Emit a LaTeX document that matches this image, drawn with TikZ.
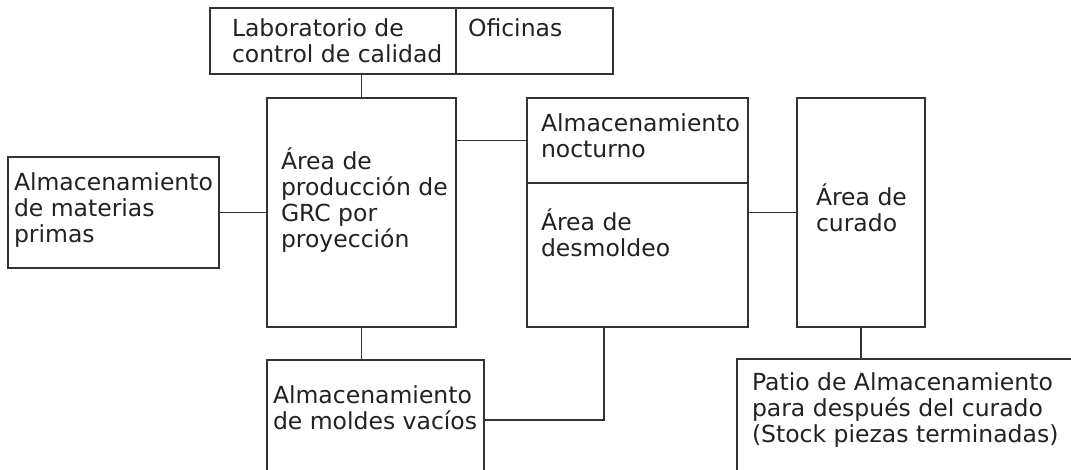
\documentclass[tikz,border=0pt]{standalone}
\usepackage{fontspec}
\setmainfont{DejaVu Sans}
\definecolor{ln}{HTML}{333333}
\definecolor{tx}{HTML}{222222}
\tikzset{
  box/.style={draw=ln, line width=1.4pt, rectangle, inner sep=0pt, outer sep=0pt, anchor=north west},
  conn/.style={draw=ln, line width=1.4pt},
  lbl/.style={text=tx, inner sep=0pt, outer sep=0pt, anchor=base west, align=left,
    font=\fontsize{23.5}{26}\selectfont}
}
\begin{document}
\begin{tikzpicture}[x=1pt,y=-1pt]
\path[use as bounding box, clip] (0,0) rectangle (1071,470);
\fill[white] (0,0) rectangle (1071,470);
% boxes
\node[box, minimum width=246pt, minimum height=66pt] (lab) at (210,8) {};
\node[box, minimum width=157pt, minimum height=66pt] (ofi) at (456,8) {};
\node[box, minimum width=189pt, minimum height=229pt] (prod) at (267,98) {};
\node[box, minimum width=211pt, minimum height=111pt] (mat) at (8,157) {};
\node[box, minimum width=221pt, minimum height=85pt] (noc) at (527,98) {};
\node[box, minimum width=221pt, minimum height=144pt] (des) at (527,183) {};
\node[box, minimum width=128pt, minimum height=229pt] (cur) at (797,98) {};
\node[box, minimum width=217pt, minimum height=160pt] (mol) at (267,360) {};
\node[box, minimum width=380pt, minimum height=160pt] (pat) at (737,359) {};
% labels (anchored at the baseline of the last line)
\node[lbl] (tlab) at (232,63) {Laboratorio de\\control de calidad};
\node[lbl] (tofi) at (468,37) {Oficinas};
\node[lbl] (tmat) at (14,243) {Almacenamiento\\de materias\\primas};
\node[lbl] (tprod) at (281,248) {Área de\\producción de\\GRC por\\proyección};
\node[lbl] (tnoc) at (541,158) {Almacenamiento\\nocturno};
\node[lbl] (tdes) at (541,257) {Área de\\desmoldeo};
\node[lbl] (tcur) at (816,232) {Área de\\curado};
\node[lbl] (tmol) at (273,429) {Almacenamiento\\de moldes vacíos};
\node[lbl] (tpat) at (752,442) {Patio de Almacenamiento\\para después del curado\\(Stock piezas terminadas)};
% connectors
\coordinate (j) at (604,420);
\draw[conn] (prod.north) -- (prod.north |- lab.south);
\draw[conn] (mat.east) -- (mat.east -| prod.west);
\draw[conn] (noc.west) -- (noc.west -| prod.east);
\draw[conn] (cur.west) -- (cur.west -| des.east);
\draw[conn] (prod.south) -- (prod.south |- mol.north);
\draw[conn] (des.south -| j) -- (j) -- (j -| mol.east);
\draw[conn] (cur.south) -- (cur.south |- pat.north);
\end{tikzpicture}
\end{document}
